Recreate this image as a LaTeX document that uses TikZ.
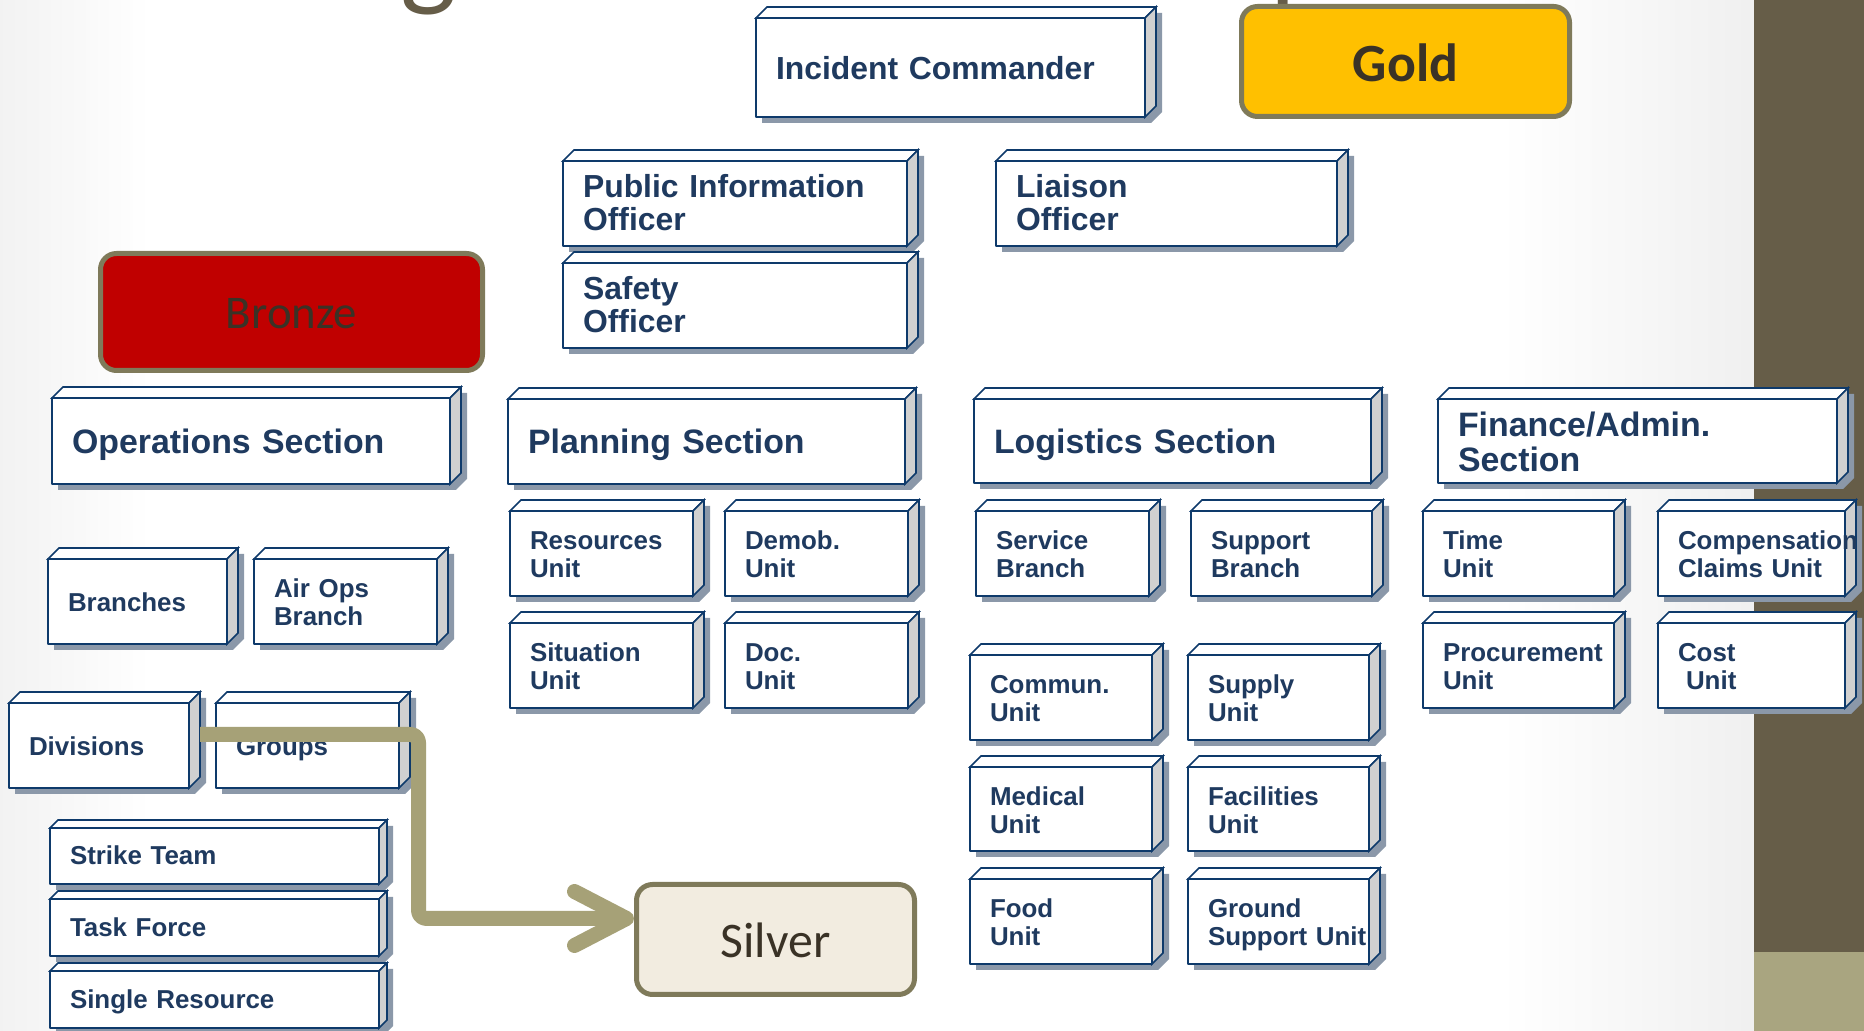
\documentclass[tikz,border=0pt]{standalone}
\usepackage{fontspec}
\usetikzlibrary{arrows.meta}
\newfontfamily\arialfont{Liberation Sans}
\newfontfamily\carlito{Carlito}
\newcommand\unitfont{\arialfont\bfseries\fontsize{26}{28}\selectfont}
\newcommand\secfont{\arialfont\bfseries\fontsize{34}{35}\selectfont}
\newcommand\offfont{\arialfont\bfseries\fontsize{32}{33}\selectfont}
\definecolor{boxline}{HTML}{0E3A6B}
\definecolor{boxtext}{HTML}{1F3A5F}
\definecolor{sideface}{HTML}{D0D0D0}
\definecolor{boxshadow}{HTML}{8B98A9}
\definecolor{tierline}{HTML}{7F7A5A}
\definecolor{tiertext}{HTML}{3A3226}
\definecolor{goldfill}{HTML}{FFC000}
\definecolor{bronzefill}{HTML}{C00000}
\definecolor{silverfill}{HTML}{F2ECE0}
\definecolor{flowline}{HTML}{A6A177}
\definecolor{slidebar}{HTML}{665D48}
\definecolor{slidefoot}{HTML}{A9A580}
\pgfdeclarelayer{bg}
\pgfdeclarelayer{faces}
\pgfsetlayers{bg,faces,main}
\begin{document}
\begin{tikzpicture}[>=latex,line join=bevel,
  unitbox/.style 2 args={draw=boxline,fill=white,line width=1.6bp,outer sep=0pt,anchor=north west,
    text width=#1bp,minimum height=#2bp,inner xsep=20bp,inner ysep=0bp,align=left,text=boxtext,
    font=\unitfont,text height=21bp,text depth=28bp},
  sectext/.style={font=\secfont,text height=27bp,text depth=35bp},
  officertext/.style={font=\offfont,text height=21bp,text depth=33bp},
  oneline/.style={text height=#1bp,text depth=0bp},
  tierbox/.style={draw=tierline,line width=5bp,rounded corners=16bp,text=tiertext,inner sep=0bp,text depth=0bp},
  flow/.style={draw=flowline,line width=15bp,rounded corners=8bp,-{Straight Barb[length=52bp,width=54bp,round]}},
  ]
\useasboundingbox (0,0) rectangle (1864bp,1031bp);
%%
\begin{pgfonlayer}{bg}
  \fill[white] (0,0) rectangle (1864bp,1031bp);
  \shade[left color=black!5,right color=white] (0,0) rectangle (150bp,1031bp);
  \shade[left color=white,right color=black!6] (1500bp,0) rectangle (1754bp,1031bp);
  \fill[slidebar] (1754bp,79bp) rectangle (1864bp,1031bp);
  \fill[slidefoot] (1754bp,0) rectangle (1864bp,79bp);
  \node (ttlg) at (400bp,1036bp) [anchor=base west,inner sep=0bp,text=slidebar,font=\carlito\fontsize{120}{126}\selectfont] {g};
  \node (ttlp) at (1270bp,1036bp) [anchor=base west,inner sep=0bp,text=slidebar,font=\carlito\fontsize{114}{120}\selectfont] {p};
\end{pgfonlayer}
%%
\node (gold) at (1405.5bp,969.5bp) [tierbox,fill=goldfill,minimum width=328bp,minimum height=110bp,text height=40bp,font=\carlito\bfseries\fontsize{54}{60}\selectfont] {Gold};
\node (bronze) at (291.5bp,719bp) [tierbox,fill=bronzefill,minimum width=382bp,minimum height=117bp,text height=33bp,font=\carlito\fontsize{47}{52}\selectfont] {Bronze};
\node (silver) at (775.5bp,91.5bp) [tierbox,fill=silverfill,minimum width=278bp,minimum height=110bp,text height=37bp,font=\carlito\fontsize{50}{56}\selectfont] {Silver};
%
\node (ic) at (756bp,1013bp) [unitbox={349}{99},officertext,oneline=25] {Incident Commander};
\node (pio) at (563bp,870bp) [unitbox={304}{85},officertext] {Public Information\\Officer};
\node (safety) at (563bp,768bp) [unitbox={304}{85},officertext] {Safety\\Officer};
\node (liaison) at (996bp,870bp) [unitbox={301}{85},officertext] {Liaison\\Officer};
%
\node (ops) at (52bp,633bp) [unitbox={358}{86},sectext,oneline=25] {Operations Section};
\node (plan) at (508bp,632bp) [unitbox={357}{85},sectext,oneline=25] {Planning Section};
\node (log) at (974bp,632bp) [unitbox={357}{84},sectext,oneline=25] {Logistics Section};
\node (fin) at (1438bp,632bp) [unitbox={359}{84},sectext] {Finance/Admin.\\Section};
%
\node (branches) at (48bp,472bp) [unitbox={139}{85},oneline=20] {Branches};
\node (airops) at (254bp,472bp) [unitbox={143}{85}] {Air Ops\\Branch};
\node (div) at (9bp,328bp) [unitbox={140}{85},oneline=20] {Divisions};
\node (groups) at (216bp,328bp) [unitbox={143}{85},oneline=20] {Groups};
\node (strike) at (50bp,203bp) [unitbox={289}{56},oneline=18] {Strike Team};
\node (task) at (50bp,132bp) [unitbox={289}{57},oneline=18] {Task Force};
\node (single) at (50bp,60bp) [unitbox={289}{57},oneline=18] {Single Resource};
%
\node (res) at (510bp,520bp) [unitbox={143}{85}] {Resources\\Unit};
\node (demob) at (725bp,520bp) [unitbox={143}{85}] {Demob.\\Unit};
\node (sit) at (510bp,408bp) [unitbox={143}{85}] {Situation\\Unit};
\node (doc) at (725bp,408bp) [unitbox={143}{85}] {Doc.\\Unit};
%
\node (service) at (976bp,520bp) [unitbox={133}{85}] {Service\\Branch};
\node (support) at (1191bp,520bp) [unitbox={141}{85}] {Support\\Branch};
\node (commun) at (970bp,376bp) [unitbox={142}{85}] {Commun.\\Unit};
\node (supply) at (1188bp,376bp) [unitbox={141}{85}] {Supply\\Unit};
\node (medical) at (970bp,264bp) [unitbox={142}{84}] {Medical\\Unit};
\node (facil) at (1188bp,264bp) [unitbox={141}{84}] {Facilities\\Unit};
\node (food) at (970bp,152bp) [unitbox={142}{85}] {Food\\Unit};
\node (ground) at (1188bp,152bp) [unitbox={141}{85}] {Ground\\Support~Unit};
%
\node (time) at (1423bp,520bp) [unitbox={151}{85}] {Time\\Unit};
\node (comp) at (1658bp,520bp) [unitbox={147}{85}] {Compensation\\Claims~Unit};
\node (proc) at (1423bp,408bp) [unitbox={151}{85}] {Procurement\\Unit};
\node (cost) at (1658bp,408bp) [unitbox={147}{85}] {Cost\\\hspace*{8bp}Unit};
%%
\begin{pgfonlayer}{faces}
\foreach \n/\d in {ic/11bp,pio/11bp,safety/11bp,liaison/11bp,ops/11bp,plan/11bp,log/11bp,fin/11bp,
    branches/11bp,airops/11bp,res/11bp,demob/11bp,sit/11bp,doc/11bp,service/11bp,support/11bp,
    time/11bp,comp/11bp,proc/11bp,cost/11bp,commun/11bp,supply/11bp,medical/11bp,facil/11bp,
    food/11bp,ground/11bp,div/11bp,groups/11bp,strike/8bp,task/8bp,single/8bp}{
  \fill[boxshadow] ([shift={(6bp,-6bp)}]\n.south west) -- ([shift={(6bp,-6bp)}]\n.north west)
    -- ([shift={(\d+6bp,\d-6bp)}]\n.north west) -- ([shift={(\d+6bp,\d-6bp)}]\n.north east)
    -- ([shift={(\d+6bp,\d-6bp)}]\n.south east) -- ([shift={(6bp,-6bp)}]\n.south east) -- cycle;
  \filldraw[fill=white,draw=boxline,line width=1.6bp] (\n.north west) -- ([shift={(\d,\d)}]\n.north west)
    -- ([shift={(\d,\d)}]\n.north east) -- (\n.north east) -- cycle;
  \filldraw[fill=sideface,draw=boxline,line width=1.6bp] (\n.north east) -- ([shift={(\d,\d)}]\n.north east)
    -- ([shift={(\d,\d)}]\n.south east) -- (\n.south east) -- cycle;
}
\end{pgfonlayer}
%
\coordinate (bend) at (418.5bp,112.5bp);
\draw [flow] ([shift={(11bp,11bp)}]div.east) -| (bend) -- (bend -| silver.west);
%
\end{tikzpicture}
\end{document}
